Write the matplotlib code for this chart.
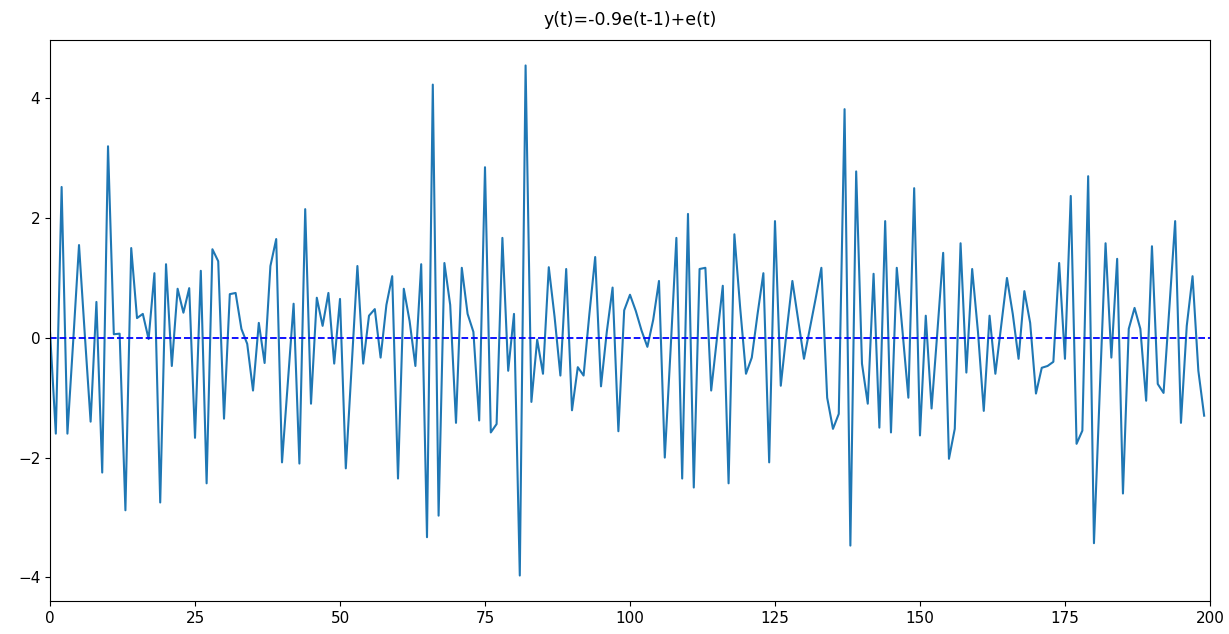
import matplotlib
matplotlib.use("Agg")
import matplotlib.pyplot as plt
import numpy as np

title = "y(t)=-0.9e(t-1)+e(t)"
y_values = [
    0.1, -1.6, 2.52, -1.6, -0.05, 1.55, 0.05, -1.4, 0.6, -2.25,
    3.2, 0.06, 0.07, -2.88, 1.5, 0.33, 0.4, -0.02, 1.08, -2.75,
    1.23, -0.47, 0.82, 0.42, 0.83, -1.67, 1.12, -2.43, 1.48, 1.28,
    -1.35, 0.73, 0.75, 0.15, -0.1, -0.88, 0.25, -0.42, 1.2, 1.65,
    -2.08, -0.75, 0.57, -2.1, 2.15, -1.1, 0.67, 0.2, 0.75, -0.43,
    0.65, -2.18, -0.5, 1.2, -0.43, 0.37, 0.48, -0.33, 0.55, 1.03,
    -2.35, 0.82, 0.28, -0.47, 1.23, -3.33, 4.23, -2.97, 1.25, 0.55,
    -1.42, 1.17, 0.4, 0.1, -1.38, 2.85, -1.58, -1.44, 1.67, -0.55,
    0.4, -3.97, 4.55, -1.07, -0.03, -0.6, 1.18, 0.35, -0.63, 1.15,
    -1.21, -0.49, -0.63, 0.4, 1.35, -0.81, 0.1, 0.84, -1.56, 0.46,
    0.72, 0.45, 0.12, -0.15, 0.3, 0.95, -2.0, -0.2, 1.67, -2.35,
    2.07, -2.5, 1.15, 1.17, -0.88, 0.0, 0.87, -2.43, 1.73, 0.5,
    -0.6, -0.33, 0.4, 1.08, -2.08, 1.95, -0.8, 0.1, 0.95, 0.3,
    -0.35, 0.15, 0.65, 1.17, -1.0, -1.52, -1.27, 3.82, -3.47, 2.78,
    -0.43, -1.1, 1.07, -1.5, 1.95, -1.58, 1.17, 0.1, -1.0, 2.5,
    -1.63, 0.37, -1.18, 0.1, 1.42, -2.02, -1.52, 1.58, -0.58, 1.15,
    0.1, -1.22, 0.37, -0.6, 0.2, 1.0, 0.4, -0.35, 0.78, 0.25,
    -0.93, -0.5, -0.47, -0.4, 1.25, -0.35, 2.37, -1.77, -1.55, 2.7,
    -3.43, -0.9, 1.58, -0.33, 1.32, -2.6, 0.15, 0.5, 0.15, -1.05,
    1.53, -0.77, -0.92, 0.5, 1.95, -1.42, 0.2, 1.03, -0.55, -1.3,
]
t_values = list(range(len(y_values)))
mean_level = 0.0
x_range = (0, 200)

fig = plt.figure(figsize=(12.29, 6.34), dpi=100)
ax = fig.add_axes([0.0407, 0.052, 0.9438, 0.885])
ax.plot(t_values, y_values, color="tab:blue", lw=1.5)
ax.axhline(mean_level, color="blue", ls="--", lw=1.3)
ax.set_xlim(*x_range)
ax.set_xticks(np.arange(0, 201, 25))
ax.set_yticks([-4, -2, 0, 2, 4])
ax.tick_params(labelsize=11)
ax.set_title(title, fontsize=12.5, pad=11)
fig.savefig("out.png", dpi=100)
